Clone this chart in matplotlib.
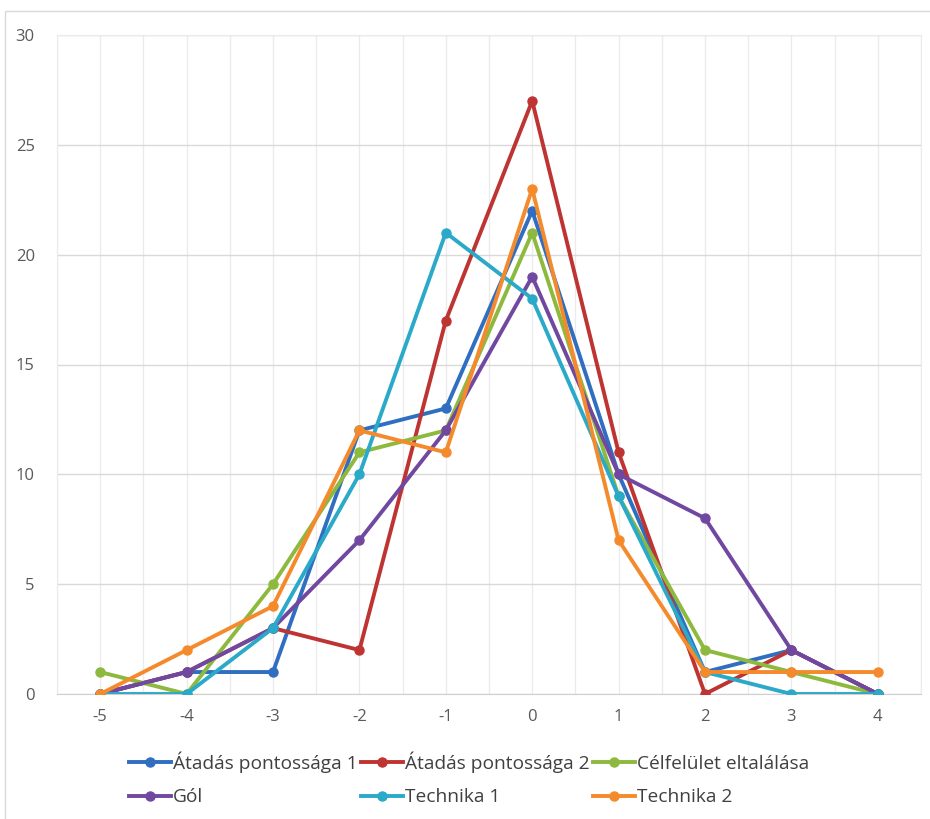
import matplotlib
matplotlib.use("Agg")
from matplotlib import pyplot as plt
from matplotlib.patches import Rectangle
import numpy as np

plt.rcParams['font.family'] = ['Open Sans', 'DejaVu Sans']
plt.rcParams['axes.unicode_minus'] = False

# Data
x_vals = [-5, -4, -3, -2, -1, 0, 1, 2, 3, 4]
atadas_1 = [0, 1, 1, 12, 13, 22, 10, 1, 2, 0]
atadas_2 = [0, 1, 3, 2, 17, 27, 11, 0, 2, 0]
celfelulet = [1, 0, 5, 11, 12, 21, 9, 2, 1, 0]
gol = [0, 1, 3, 7, 12, 19, 10, 8, 2, 0]
technika_1 = [0, 0, 3, 10, 21, 18, 9, 1, 0, 0]
technika_2 = [0, 2, 4, 12, 11, 23, 7, 1, 1, 1]

series_names = ["Átadás pontossága 1", "Átadás pontossága 2", "Célfelület eltalálása",
                "Gól", "Technika 1", "Technika 2"]
series_vals = [atadas_1, atadas_2, celfelulet, gol, technika_1, technika_2]
colors = ["#2F6EC0", "#BE3432", "#8CB93E", "#7048A0", "#2BA9C8", "#F58A2C"]

fig = plt.figure(figsize=(9.3, 8.19), dpi=100)
ax = fig.add_axes([57 / 930, 1 - 694 / 819, (921 - 57) / 930, (694 - 35) / 819])

# outer chart frame
fig.patches.append(Rectangle((5 / 930, -0.05), 1.0, 1 - 11 / 819 + 0.05,
                             transform=fig.transFigure, fill=False,
                             edgecolor="#D9D9D9", linewidth=1.0))

lines = []
for name, vals, c in zip(series_names, series_vals, colors):
    ln, = ax.plot(x_vals, vals, color=c, linewidth=2.8, marker='o', markersize=6.5,
                  label=name, solid_joinstyle='round', zorder=3)
    lines.append(ln)

ax.set_xlim(-5.5, 4.5)
ax.set_ylim(0, 30)
ax.set_xticks(x_vals)
ax.set_xticks(np.arange(-5.5, 4.51, 0.5), minor=True)
ax.set_yticks(np.arange(0, 31, 5))
ax.grid(axis='x', which='both', color="#EBEBEB", linewidth=1.0, zorder=0)
ax.grid(axis='y', which='major', color="#D9D9D9", linewidth=1.0, zorder=0)
ax.tick_params(axis='both', which='both', length=0, labelsize=12, labelcolor="#595959")
ax.tick_params(axis='x', pad=11)
ax.tick_params(axis='y', pad=16)
for s in ['top', 'left', 'right']:
    ax.spines[s].set_color("#EBEBEB")
ax.spines['bottom'].set_color("#D0D0D0")
ax.set_axisbelow(True)

# legend filled row by row, like the original
order = [0, 3, 1, 4, 2, 5]
leg = fig.legend([lines[i] for i in order], [series_names[i] for i in order],
                 loc='upper left', bbox_to_anchor=(121 / 930, 1 - 744 / 819), ncol=3,
                 frameon=False, fontsize=13.8, handlelength=2.2, handletextpad=0.12,
                 columnspacing=0.15, labelspacing=0.8, borderaxespad=0)
for t in leg.get_texts():
    t.set_color("#404040")

fig.savefig("out.png", dpi=100, facecolor="white")
